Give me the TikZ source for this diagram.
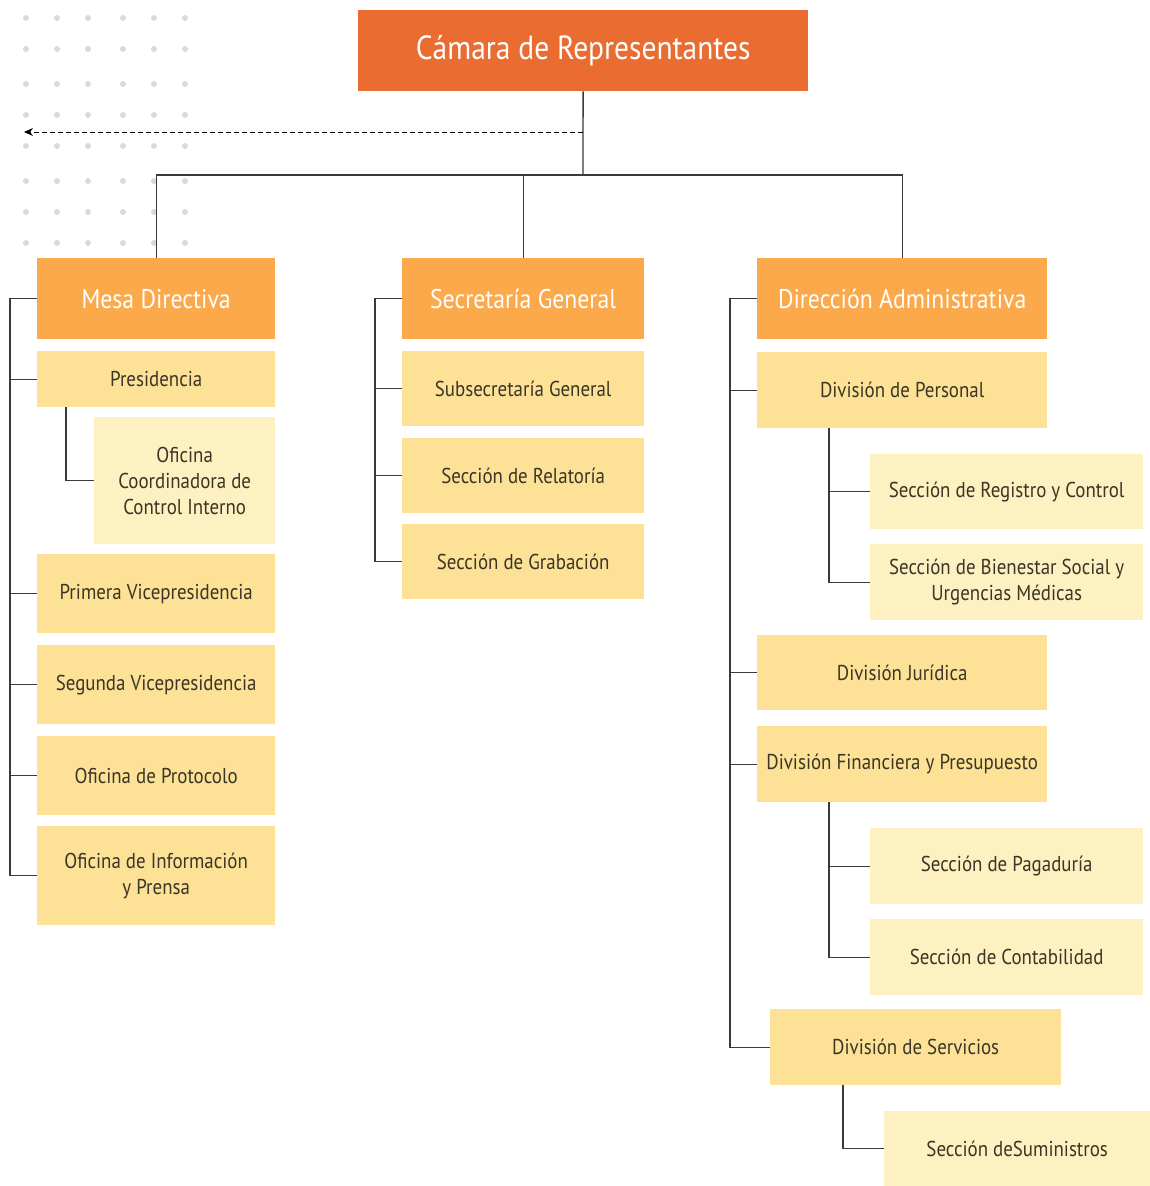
\documentclass[tikz,border=0pt]{standalone}
\usepackage{fontspec}
\setmainfont{PT Sans}[FakeStretch=0.88]
\usepackage{xcolor}
\usepackage{tikz}
\usetikzlibrary{arrows.meta}

\definecolor{camara}{HTML}{EA6C30}
\definecolor{jefe}{HTML}{FBA94A}
\definecolor{unidad}{HTML}{FCE196}
\definecolor{seccion}{HTML}{FDF0C1}
\definecolor{letra}{HTML}{3B3526}
\definecolor{punto}{HTML}{DADADA}
\definecolor{linea}{HTML}{3A3A3A}

\begin{document}
\begin{tikzpicture}
[x=1pt, y=-1pt,
box/.style={rectangle, inner sep=0pt, anchor=north west, align=center},
lvlzero/.style={box, fill=camara, text=white, font=\fontsize{33.5}{40}\selectfont},
lvlone/.style={box, fill=jefe, text=white, font=\fontsize{27}{32}\selectfont},
lvltwo/.style={box, fill=unidad, text=letra, font=\fontsize{21.5}{26}\selectfont},
lvlthree/.style={box, fill=seccion, text=letra, font=\fontsize{21.5}{26}\selectfont},
link/.style={draw=linea, line width=1.3pt},
]
\useasboundingbox (0,0) rectangle (1150,1186);

% dot grid
\foreach \x in {26,57,88,123,154,185}
  \foreach \y in {18,49,84,115,146,181,212,243}
    \fill[punto] (\x,\y) circle (3pt);

\node[lvlzero, minimum width=450pt, minimum height=81pt] (cam) at (358,10) {Cámara de Representantes};

\node[lvlone, minimum width=238pt, minimum height=81pt] (mesa) at (37,258) {Mesa Directiva};
\node[lvlone, minimum width=242pt, minimum height=81pt] (secg) at (402,258) {Secretaría General};
\node[lvlone, minimum width=290pt, minimum height=81pt] (dira) at (757,258) {Dirección Administrativa};

% mesa directiva
\node[lvltwo, minimum width=238pt, minimum height=56pt] (pres) at (37,351) {Presidencia};
\node[lvlthree, minimum width=181pt, minimum height=127pt] (occi) at (94,417) {Oficina\\Coordinadora de\\Control Interno};
\node[lvltwo, minimum width=238pt, minimum height=79pt] (primv) at (37,554) {Primera Vicepresidencia};
\node[lvltwo, minimum width=238pt, minimum height=79pt] (segv) at (37,645) {Segunda Vicepresidencia};
\node[lvltwo, minimum width=238pt, minimum height=79pt] (prot) at (37,736) {Oficina de Protocolo};
\node[lvltwo, minimum width=238pt, minimum height=99pt] (info) at (37,826) {Oficina de Información\\y Prensa};

% secretaria general
\node[lvltwo, minimum width=242pt, minimum height=75pt] (subs) at (402,351) {Subsecretaría General};
\node[lvltwo, minimum width=242pt, minimum height=75pt] (rela) at (402,438) {Sección de Relatoría};
\node[lvltwo, minimum width=242pt, minimum height=75pt] (grab) at (402,524) {Sección de Grabación};

% direccion administrativa
\node[lvltwo, minimum width=290pt, minimum height=76pt] (divp) at (757,352) {División de Personal};
\node[lvlthree, minimum width=273pt, minimum height=75pt] (regc) at (870,454) {Sección de Registro y Control};
\node[lvlthree, minimum width=273pt, minimum height=76pt] (bien) at (870,544) {Sección de Bienestar Social y\\Urgencias Médicas};
\node[lvltwo, minimum width=290pt, minimum height=75pt] (divj) at (757,635) {División Jurídica};
\node[lvltwo, minimum width=290pt, minimum height=76pt] (divf) at (757,726) {División Financiera y Presupuesto};
\node[lvlthree, minimum width=273pt, minimum height=76pt] (paga) at (870,828) {Sección de Pagaduría};
\node[lvlthree, minimum width=273pt, minimum height=76pt] (cont) at (870,919) {Sección de Contabilidad};
\node[lvltwo, minimum width=291pt, minimum height=76pt] (divs) at (770,1009) {División de Servicios};
\node[lvlthree, minimum width=266pt, minimum height=75pt] (sumi) at (884,1111) {Sección deSuministros};

% connectors
\coordinate (bus) at (583,175);
\coordinate (tap) at (583,132);
\coordinate (ext) at (24,132);
\draw[link] (cam) -- (bus);
\draw[link] (bus) -| (mesa.north);
\draw[link] (bus) -| (secg.north);
\draw[link] (bus) -| (dira.north);
\draw[draw=black, line width=1pt, dash pattern=on 5pt off 3pt, -{Stealth[length=9pt,width=8pt]}] (tap) -- (ext);

\coordinate (mrail) at (10,0);
\coordinate (srail) at (375,0);
\coordinate (drail) at (730,0);
\draw[link] (mesa.west) -| (mrail |- info.west) -- (info.west);
\foreach \n in {pres,primv,segv,prot}
  \draw[link] (\n.west) -- (\n.west -| mrail);
\draw[link] ([xshift=29pt]pres.south west) |- (occi.west);

\draw[link] (secg.west) -| (srail |- grab.west) -- (grab.west);
\foreach \n in {subs,rela}
  \draw[link] (\n.west) -- (\n.west -| srail);

\draw[link] (dira.west) -| (drail |- divs.west) -- (divs.west);
\foreach \n in {divp,divj,divf}
  \draw[link] (\n.west) -- (\n.west -| drail);

\coordinate (prail) at ([xshift=72pt]divp.south west);
\draw[link] (prail) |- (bien.west);
\draw[link] (regc.west) -- (regc.west -| prail);
\coordinate (frail) at ([xshift=72pt]divf.south west);
\draw[link] (frail) |- (cont.west);
\draw[link] (paga.west) -- (paga.west -| frail);
\draw[link] ([xshift=73pt]divs.south west) |- (sumi.west);
\end{tikzpicture}
\end{document}
